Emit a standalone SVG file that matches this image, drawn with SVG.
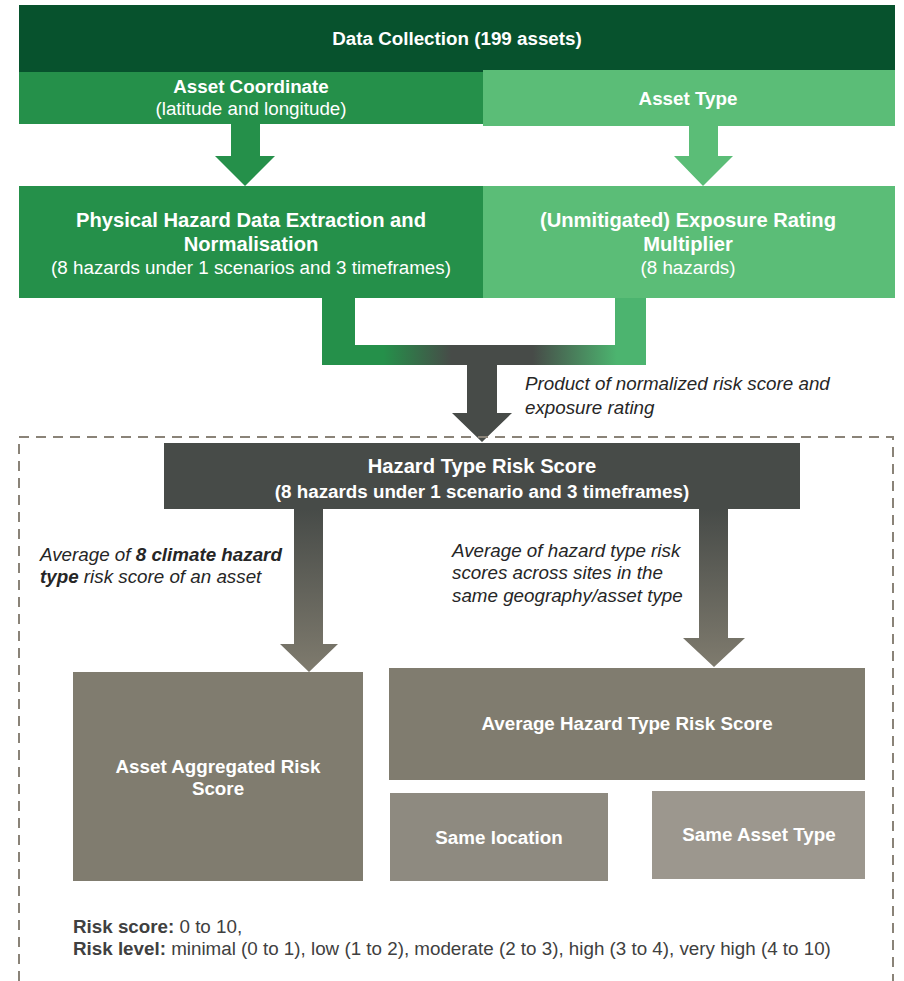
<svg xmlns="http://www.w3.org/2000/svg" width="904" height="981" viewBox="0 0 904 981">
<defs>
<style>
text{font-family:"Liberation Sans",Arial,sans-serif;}
.w{fill:#ffffff;font-size:18.8px;text-anchor:middle;}
.b{font-weight:bold;}
.wl{fill:#ffffff;font-size:20.2px;font-weight:bold;text-anchor:middle;}
.it{fill:#262626;font-size:18.8px;font-style:italic;}
.nt{fill:#404040;font-size:18.8px;}
</style>
<linearGradient id="ugrad" x1="322" y1="0" x2="646" y2="0" gradientUnits="userSpaceOnUse">
<stop offset="0" stop-color="#25904A"/>
<stop offset="0.19" stop-color="#25904A"/>
<stop offset="0.4" stop-color="#474B48"/>
<stop offset="0.65" stop-color="#474B48"/>
<stop offset="0.91" stop-color="#4CB46F"/>
<stop offset="1" stop-color="#4CB46F"/>
</linearGradient>
<linearGradient id="agrad" x1="0" y1="0" x2="0" y2="1">
<stop offset="0" stop-color="#474B48"/>
<stop offset="1" stop-color="#7F7B6E"/>
</linearGradient>
</defs>

<g id="data-collection">
<rect x="19" y="5" width="876" height="67" fill="#07522D"/>
<text class="w b" x="457" y="45">Data Collection (199 assets)</text>
</g>

<g id="asset-coordinate">
<rect x="19" y="72" width="464" height="52" fill="#25904A"/>
<text class="w b" x="251" y="93">Asset Coordinate</text>
<text class="w" x="251" y="115">(latitude and longitude)</text>
</g>

<g id="asset-type">
<rect x="483" y="70" width="412" height="56" fill="#5BBD77"/>
<text class="w b" x="688" y="105">Asset Type</text>
</g>

<g id="physical-hazard">
<rect x="19" y="186" width="464" height="112" fill="#25904A"/>
<text class="wl" x="251" y="227">Physical Hazard Data Extraction and</text>
<text class="wl" x="251" y="251">Normalisation</text>
<text class="w" x="251" y="274">(8 hazards under 1 scenarios and 3 timeframes)</text>
</g>

<g id="exposure-rating">
<rect x="483" y="186" width="412" height="112" fill="#5BBD77"/>
<text class="wl" x="688" y="227">(Unmitigated) Exposure Rating</text>
<text class="wl" x="688" y="251">Multiplier</text>
<text class="w" x="688" y="274">(8 hazards)</text>
</g>

<g id="connectors">
<polygon points="231,124 260,124 260,156 275,156 245,186 215,156 231,156" fill="#25904A"/>
<polygon points="689,126 718,126 718,156 733,156 703,186 674,156 689,156" fill="#5BBD77"/>
<path d="M322,298 H355 V345 H615 V298 H646 V365 H322 Z" fill="url(#ugrad)"/>
<polygon points="467,364 497,364 497,413 512,413 482,442 452,413 467,413" fill="#474B48"/>
<polygon points="294,509 323,509 323,644 338,644 309,672 280,644 294,644" fill="url(#agrad)"/>
<polygon points="699,509 728,509 728,638 745,638 714,667 683,638 699,638" fill="url(#agrad)"/>
</g>

<g id="label-product">
<text class="it" x="525" y="390">Product of normalized risk score and</text>
<text class="it" x="525" y="414">exposure rating</text>
</g>

<g id="boundary">
<path d="M19,981 V437 H893 V981" fill="none" stroke="#8A8378" stroke-width="2" stroke-dasharray="10,7"/>
</g>

<g id="hazard-type-risk-score">
<rect x="164" y="443" width="636" height="66" fill="#474B48"/>
<text class="wl" x="482" y="473">Hazard Type Risk Score</text>
<text class="w b" x="482" y="498">(8 hazards under 1 scenario and 3 timeframes)</text>
</g>

<g id="label-average-left">
<text class="it" x="40" y="561">Average of <tspan font-weight="bold">8 climate hazard</tspan></text>
<text class="it" x="40" y="583"><tspan font-weight="bold">type</tspan> risk score of an asset</text>
</g>

<g id="label-average-right">
<text class="it" x="452" y="557">Average of hazard type risk</text>
<text class="it" x="452" y="579">scores across sites in the</text>
<text class="it" x="452" y="602">same geography/asset type</text>
</g>

<g id="asset-aggregated">
<rect x="73" y="672" width="290" height="209" fill="#807C6F"/>
<text class="w b" x="218" y="773">Asset Aggregated Risk</text>
<text class="w b" x="218" y="795">Score</text>
</g>

<g id="average-hazard">
<rect x="389" y="668" width="476" height="112" fill="#807C6F"/>
<text class="w b" x="627" y="730">Average Hazard Type Risk Score</text>
</g>

<g id="same-location">
<rect x="390" y="793" width="218" height="88" fill="#8E8A80"/>
<text class="w b" x="499" y="844">Same location</text>
</g>

<g id="same-asset-type">
<rect x="652" y="791" width="213" height="88" fill="#9C978E"/>
<text class="w b" x="759" y="841">Same Asset Type</text>
</g>

<g id="legend">
<text class="nt" x="73" y="933"><tspan font-weight="bold">Risk score:</tspan> 0 to 10,</text>
<text class="nt" x="73" y="955"><tspan font-weight="bold">Risk level:</tspan> minimal (0 to 1), low (1 to 2), moderate (2 to 3), high (3 to 4), very high (4 to 10)</text>
</g>
</svg>
